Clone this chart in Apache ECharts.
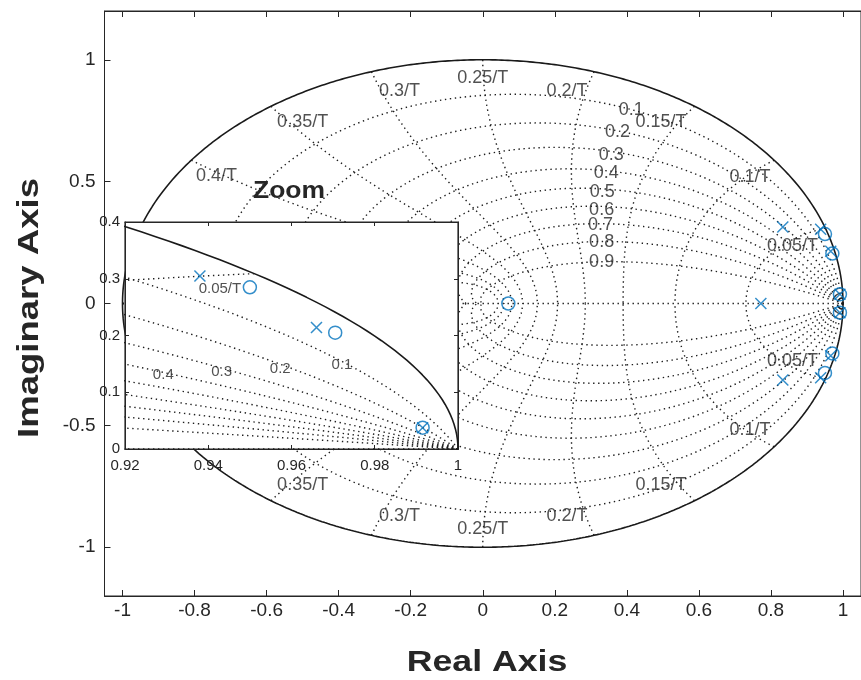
<!DOCTYPE html>
<html>
<head>
<meta charset="utf-8">
<script src="https://cdn.jsdelivr.net/npm/echarts@6.0.0/dist/echarts.min.js"></script>
<style>
  html, body { margin: 0; padding: 0; background: #fff; }
  #chart { width: 861px; height: 680px; }
</style>
</head>
<body>
<div id="chart"></div>
<script>
// z-plane grid: damping ratios and natural frequencies (x 1/T)
const zetaValues = [0.1, 0.2, 0.3, 0.4, 0.5, 0.6, 0.7, 0.8, 0.9];
const wnValues = [0.05, 0.1, 0.15, 0.2, 0.25, 0.3, 0.35, 0.4, 0.45, 0.5];
const wnLabels = ["0.05/T", "0.1/T", "0.15/T", "0.2/T", "0.25/T", "0.3/T", "0.35/T", "0.4/T"];
const zetaLabels = ["0.1", "0.2", "0.3", "0.4", "0.5", "0.6", "0.7", "0.8", "0.9"];

// poles (x) and zeros (o)
const poleRe = [0.772, 0.833, 0.833, 0.938, 0.938, 0.966, 0.966, 0.9915, 0.9915];
const poleIm = [0, 0.314, -0.314, 0.305, -0.305, 0.214, -0.214, 0.0376, -0.0376];
const zeroRe = [0.071, 0.95, 0.95, 0.9705, 0.9705, 0.9915, 0.9915];
const zeroIm = [0, 0.285, -0.285, 0.205, -0.205, 0.0376, -0.0376];

const xTicks = [-1, -0.8, -0.6, -0.4, -0.2, 0, 0.2, 0.4, 0.6, 0.8, 1];
const yTicks = [-1, -0.5, 0, 0.5, 1];

// label placement (data coords), same spots as the matlab figure
const wnLabelPos = [[0.86, 0.237], [0.742, 0.518], [0.495, 0.743], [0.234, 0.873],
  [0, 0.927], [-0.231, 0.873], [-0.5, 0.743], [-0.739, 0.522]];
const zetaLabelPos = [[0.412, 0.792], [0.374, 0.702], [0.357, 0.608], [0.343, 0.535],
  [0.332, 0.457], [0.33, 0.384], [0.327, 0.322], [0.33, 0.253], [0.33, 0.171]];
const insetLabels = ["0.05/T", "0.1", "0.2", "0.3", "0.4"];
const insetLabelPos = [[0.9428, 0.283], [0.9721, 0.148], [0.9573, 0.142], [0.9432, 0.136], [0.9292, 0.13]];

const FONT = "Liberation Sans, Arial, Helvetica, sans-serif";
const TXT = "#262626";
const BLUE = "#0072BD";

function dampingLine(zeta, sign) {
  const pts = [];
  const s = Math.sqrt(1 - zeta * zeta);
  const wMax = Math.PI / s;
  const n = 500;
  for (let i = 0; i <= n; i++) {
    const w = (wMax * i) / n;
    const r = Math.exp(-zeta * w);
    pts.push([r * Math.cos(w * s), sign * r * Math.sin(w * s)]);
  }
  return pts;
}

function freqLine(f, sign) {
  const pts = [];
  const w = 2 * Math.PI * f;
  const n = 150;
  for (let i = 0; i <= n; i++) {
    const z = i / n;
    const r = Math.exp(-z * w);
    const a = w * Math.sqrt(1 - z * z);
    pts.push([r * Math.cos(a), sign * r * Math.sin(a)]);
  }
  return pts;
}

function unitCircle() {
  const pts = [];
  for (let i = 0; i <= 720; i++) {
    const a = (2 * Math.PI * i) / 720;
    pts.push([Math.cos(a), Math.sin(a)]);
  }
  return pts;
}

const dotted = { color: "#1e1e1e", width: 1.4, type: [1.4, 3.6] };
const series = [];

function addCurve(pts, style, idx) {
  series.push({
    type: "line",
    xAxisIndex: idx,
    yAxisIndex: idx,
    data: pts,
    showSymbol: false,
    symbol: "none",
    silent: true,
    clip: true,
    lineStyle: style,
    z: idx ? 12 : 2,
  });
}

[0, 1].forEach((idx) => {
  zetaValues.forEach((z) => {
    addCurve(dampingLine(z, 1), dotted, idx);
    addCurve(dampingLine(z, -1), dotted, idx);
  });
  wnValues.forEach((f) => {
    addCurve(freqLine(f, 1), dotted, idx);
    addCurve(freqLine(f, -1), dotted, idx);
  });
  addCurve([[-1, 0], [1, 0]], dotted, idx);
  addCurve(unitCircle(), { color: "#1a1a1a", width: 1.6, type: "solid" }, idx);

  series.push({
    type: "scatter",
    xAxisIndex: idx,
    yAxisIndex: idx,
    symbol: "path://M0,0L10,10M0,10L10,0",
    symbolSize: 11,
    silent: true,
    clip: true,
    z: idx ? 14 : 4,
    itemStyle: { color: BLUE, borderColor: BLUE, borderWidth: 1.5 },
    data: poleRe.map((x, i) => [x, poleIm[i]]),
  });
  series.push({
    type: "scatter",
    xAxisIndex: idx,
    yAxisIndex: idx,
    symbol: "circle",
    symbolSize: 13,
    silent: true,
    clip: true,
    z: idx ? 14 : 4,
    itemStyle: { color: "rgba(0,0,0,0)", borderColor: BLUE, borderWidth: 1.5 },
    data: zeroRe.map((x, i) => [x, zeroIm[i]]),
  });
});

function textSeries(names, pos, idx, size) {
  return {
    type: "scatter",
    xAxisIndex: idx,
    yAxisIndex: idx,
    symbolSize: 1,
    silent: true,
    z: idx ? 13 : 3,
    itemStyle: { color: "rgba(0,0,0,0)" },
    data: names.map((n, i) => ({ name: n, value: pos[i] })),
    label: {
      show: true,
      position: "inside",
      formatter: "{b}",
      color: TXT,
      fontSize: size,
      fontFamily: FONT,
    },
  };
}

// wn labels top and bottom (0.4/T bottom sits under the inset)
series.push(textSeries(wnLabels, wnLabelPos, 0, 18));
series.push(textSeries(wnLabels.slice(0, 7), wnLabelPos.slice(0, 7).map((p) => [p[0], -p[1]]), 0, 18));
series.push(textSeries(zetaLabels, zetaLabelPos, 0, 18));
series.push(textSeries(insetLabels, insetLabelPos, 1, 15));

const tickLabel = { color: TXT, fontSize: 19, fontFamily: FONT };
const axisLine = { show: true, onZero: false, lineStyle: { color: TXT, width: 1 } };

const chart = echarts.init(document.getElementById("chart"));
chart.setOption({
  animation: false,
  backgroundColor: "#fff",
  grid: [
    { left: 104.5, top: 11, width: 764.7, height: 585, show: true, borderColor: TXT, borderWidth: 1, backgroundColor: "#fff", z: 0 },
    { left: 125, top: 222, width: 333, height: 227, show: true, borderColor: TXT, borderWidth: 1.2, backgroundColor: "#fff", z: 10 },
  ],
  xAxis: [
    {
      type: "value", gridIndex: 0, min: -1.05, max: 1.05, position: "bottom",
      axisLine, splitLine: { show: false },
      axisTick: { inside: true, length: 6, customValues: xTicks, lineStyle: { color: TXT } },
      axisLabel: { ...tickLabel, margin: 5, customValues: xTicks },
    },
    {
      type: "value", gridIndex: 1, min: 0.92, max: 1, interval: 0.02, position: "bottom", z: 11,
      axisLine, splitLine: { show: false },
      axisTick: { inside: true, length: 4, lineStyle: { color: TXT } },
      axisLabel: { color: TXT, fontSize: 15, fontFamily: FONT, margin: 9, formatter: (v) => +v.toFixed(2) },
    },
    {
      type: "value", gridIndex: 0, min: -1.05, max: 1.05, position: "top",
      axisLine, splitLine: { show: false },
      axisTick: { inside: true, length: 6, customValues: xTicks, lineStyle: { color: TXT } },
      axisLabel: { show: false },
    },
    {
      type: "value", gridIndex: 1, min: 0.92, max: 1, interval: 0.02, position: "top", z: 11,
      axisLine, splitLine: { show: false },
      axisTick: { inside: true, length: 4, lineStyle: { color: TXT } },
      axisLabel: { show: false },
    },
  ],
  yAxis: [
    {
      type: "value", gridIndex: 0, min: -1.2, max: 1.2, position: "left",
      axisLine, splitLine: { show: false },
      axisTick: { inside: true, length: 6, customValues: yTicks, lineStyle: { color: TXT } },
      axisLabel: { ...tickLabel, margin: 9, customValues: yTicks },
    },
    {
      type: "value", gridIndex: 1, min: 0, max: 0.4, interval: 0.1, position: "left", z: 11,
      axisLine, splitLine: { show: false },
      axisTick: { inside: true, length: 4, lineStyle: { color: TXT } },
      axisLabel: { color: TXT, fontSize: 15, fontFamily: FONT, margin: 5, formatter: (v) => +v.toFixed(1) },
    },
    {
      type: "value", gridIndex: 1, min: 0, max: 0.4, interval: 0.1, position: "right", z: 11,
      axisLine, splitLine: { show: false },
      axisTick: { inside: true, length: 4, lineStyle: { color: TXT } },
      axisLabel: { show: false },
    },
  ],
  graphic: [
    {
      type: "text", x: 289, y: 192, z: 20, scaleX: 1.15,
      style: { text: "Zoom", align: "center", verticalAlign: "middle", fill: TXT, fontSize: 23, fontWeight: "bold", fontFamily: FONT },
    },
    {
      type: "text", x: 487, y: 663, z: 20, scaleX: 1.23,
      style: { text: "Real Axis", align: "center", verticalAlign: "middle", fill: TXT, fontSize: 29, fontWeight: "bold", fontFamily: FONT },
    },
    {
      type: "text", x: 30, y: 308, rotation: Math.PI / 2, scaleX: 1.26, z: 20,
      style: { text: "Imaginary Axis", align: "center", verticalAlign: "middle", fill: TXT, fontSize: 29, fontWeight: "bold", fontFamily: FONT },
    },
  ],
  series,
});
</script>
</body>
</html>
